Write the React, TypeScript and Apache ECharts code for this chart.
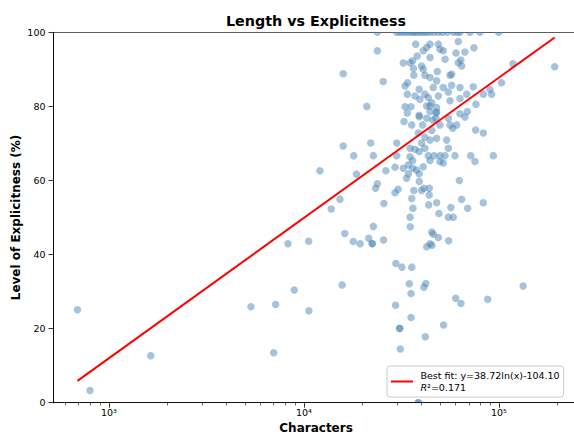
import React, { useEffect, useRef } from 'react';
import * as echarts from 'echarts';

// Each point: number of characters (x) and level of explicitness in % (y)
const characters: number[] = [
  690, 800, 1640, 5350, 7160, 7000, 8280, 8920, 10570, 10600, 12080, 13800, 15300, 15900, 15900,
  16200, 15700, 17900, 18000, 18600, 19400, 21000, 21500, 22000, 22500, 22300, 22700, 22700, 23300,
  23800, 23800, 25500, 25600, 25700, 26300,
  // top row (100 %)
  23800, 29900, 31100, 32300, 33600, 34800, 36100, 37100, 38400, 39800, 41200, 42600, 44300, 46400,
  48900, 51200, 54200, 58300, 61200, 63100, 71000, 79900, 99600,
  // dense cluster, upper part
  37400, 44300, 48900, 61900, 40900, 42600, 49800, 51800, 60200, 66900, 74400, 44300, 52900, 63800,
  61900, 36100, 38100, 32300, 35000, 40100, 36400, 40900, 48300, 64400, 56100, 36600, 41700, 44300,
  57200, 118000, 103000, 73800, 83100, 91700, 89900, 34000, 33000, 39000, 46000, 47900, 51800, 57200,
  63100, 68300, 33900, 37100, 41700, 43400, 48900, 55000, 39300, 44300, 33000, 35400, 42600, 47900,
  56100, 63100, 76200, 33900, 39000, 47900, 45200,
  // middle part
  39000, 42600, 44300, 47500, 32600, 35700, 40600, 45700, 47500, 49800, 55000, 56100, 57900, 60700,
  63100, 68800, 66900, 75900, 83100, 38600, 41700, 45200, 40100, 44300, 47900, 53900, 55000, 35000,
  37100, 39000, 41700, 29900, 29900, 35000, 43400, 46400, 49800, 52900, 59500, 71600, 93500, 44300,
  49800, 51800, 75300, 36100, 29300, 32300, 34300, 36100, 37800, 40900, 34300, 33600, 39000, 29300,
  30400, 39000, 36600, 40100, 41200, 43900, 43900, 62600, 35700, 64400,
  // lower part
  29600, 31800, 35700, 35000, 35100, 36200, 47900, 49200, 43600, 55000, 58300, 56700, 69100, 83100,
  45200, 46000, 48900, 55200, 44300, 42600, 45300,
  34700, 42200, 41200, 35400, 29500, 60000, 63800, 87500, 35400, 30900, 31000, 52000, 41900, 31200,
  38400, 38800, 133000, 193000,
];

const explicitness: number[] = [
  25.1, 3.3, 12.7, 25.9, 26.5, 13.5, 42.9, 30.4, 43.6, 24.8, 62.6, 52.3, 54.9, 88.8, 69.3,
  45.7, 31.8, 43.5, 66.7, 61.7, 42.9, 80.0, 44.4, 70.1, 42.9, 43.0, 47.6, 66.7, 57.9,
  59.1, 95.0, 86.7, 43.9, 53.8, 62.6,
  100, 100, 100, 100, 100, 100, 100, 100, 100, 100, 100, 100, 100, 100,
  100, 100, 100, 100, 100, 100, 100, 100, 100,
  96.8, 96.8, 96.8, 97.5, 95.0, 95.9, 95.4, 95.0, 94.4, 94.7, 95.8, 93.2, 92.7, 92.5,
  91.8, 92.3, 93.6, 91.7, 91.8, 90.9, 90.2, 90.0, 89.4, 90.9, 88.4, 88.4, 88.4, 87.8,
  88.7, 91.5, 86.4, 85.3, 83.3, 83.3, 84.6, 86.4, 85.5, 84.6, 85.1, 86.9, 85.1, 85.7,
  85.1, 83.3, 83.3, 82.8, 83.3, 82.4, 82.8, 83.9, 81.9, 80.1, 79.9, 79.9, 80.1, 79.7,
  81.5, 82.1, 80.6, 78.2, 77.6, 78.5, 81.0,
  77.2, 76.8, 78.6, 78.2, 75.9, 75.0, 75.0, 76.3, 76.8, 75.0, 76.8, 75.0, 74.1, 75.0,
  78.0, 78.6, 77.1, 73.6, 72.8, 72.8, 71.7, 73.5, 70.1, 70.9, 71.4, 70.9, 68.7, 68.7,
  68.4, 67.8, 68.7, 70.1, 66.7, 66.4, 66.7, 66.7, 66.7, 66.7, 66.7, 66.7, 66.7, 65.4,
  65.1, 64.7, 65.1, 65.4, 63.6, 63.3, 64.2, 63.3, 62.8, 63.7, 61.8, 60.6, 61.8, 56.7,
  57.6, 59.7, 57.3, 57.3, 57.9, 57.9, 56.1, 60.0, 55.1, 54.9,
  37.6, 36.6, 36.6, 50.1, 47.5, 52.5, 54.0, 51.1, 53.4, 50.1, 50.1, 52.7, 52.5, 54.0,
  46.1, 45.5, 44.6, 43.7, 42.9, 42.1, 42.5,
  32.1, 32.2, 31.2, 29.5, 26.3, 28.2, 26.8, 27.9, 23.0, 20.1, 20.0, 21.0, 17.8, 14.5,
  0, 0, 31.5, 90.7,
];

// Best-fit line end points
const fitCharacters: number[] = [690, 193000];
const fitExplicitness: number[] = [5.9, 98.6];
const fitName = 'Best fit: y=38.72ln(x)-104.10';
const rSquared = '0.171';

const xMajorTicks: number[] = [1000, 10000, 100000];
const xMinorTicks: number[] = [
  600, 700, 800, 900,
  2000, 3000, 4000, 5000, 6000, 7000, 8000, 9000,
  20000, 30000, 40000, 50000, 60000, 70000, 80000, 90000,
  200000,
];

const FONT = 'DejaVu Sans';
const SUP: Record<number, string> = { 2: '²', 3: '³', 4: '⁴', 5: '⁵', 6: '⁶' };

const W = 632;
const H = 434;
const GRID = { left: 53.5, right: 53.4, top: 32.3, bottom: 31.3 };

export default function App() {
  const ref = useRef<HTMLDivElement>(null);

  useEffect(() => {
    if (!ref.current) return;
    const chart = echarts.init(ref.current, undefined, { renderer: 'svg' });
    const axisLineStyle = { color: '#000', width: 0.8 };
    const plotW = W - GRID.left - GRID.right;
    chart.setOption({
      animation: false,
      title: {
        text: 'Length vs Explicitness',
        left: 'center',
        top: 13.5,
        padding: 0,
        z: 20,
        textStyle: { fontFamily: FONT, fontWeight: 'bold', fontSize: 14.3, color: '#000' },
      },
      grid: {
        left: GRID.left,
        right: GRID.right,
        top: GRID.top,
        bottom: GRID.bottom,
        outerBoundsMode: 'none',
        containLabel: false,
        show: true,
        borderColor: '#000',
        borderWidth: 0.8,
        backgroundColor: 'transparent',
      },
      // masks so markers are clipped at the plot frame, as in the original
      graphic: [
        {
          type: 'rect',
          z: 5,
          silent: true,
          shape: { x: GRID.left - 4, y: 0, width: plotW + 8, height: GRID.top - 0.4 },
          style: { fill: '#fff' },
        },
        {
          type: 'rect',
          z: 5,
          silent: true,
          shape: { x: GRID.left + 0.4, y: H - GRID.bottom + 0.4, width: plotW, height: GRID.bottom },
          style: { fill: '#fff' },
        },
      ],
      legend: {
        data: [fitName],
        left: 387,
        top: 366,
        orient: 'vertical',
        padding: [3.5, 4, 3.5, 4],
        itemWidth: 22,
        itemHeight: 2,
        icon: 'rect',
        z: 20,
        backgroundColor: 'rgba(255,255,255,0.8)',
        borderColor: '#cccccc',
        borderWidth: 1,
        borderRadius: 3,
        formatter: (n: string) => n + '\n{i|R}²=' + rSquared,
        textStyle: {
          fontFamily: FONT,
          fontSize: 9.5,
          lineHeight: 12,
          color: '#000',
          padding: [0, 0, 0, 2.5],
          rich: {
            i: { fontStyle: 'italic', fontFamily: FONT, fontSize: 9.5, lineHeight: 12, color: '#000' },
          },
        },
      },
      xAxis: [
        {
          type: 'log',
          logBase: 10,
          min: 520,
          max: 256000,
          gridIndex: 0,
          position: 'bottom',
          z: 10,
          name: 'Characters',
          nameLocation: 'middle',
          nameGap: 19,
          nameMoveOverlap: false,
          nameTextStyle: { fontFamily: FONT, fontWeight: 'bold', fontSize: 12, lineHeight: 12, color: '#000' },
          axisLine: { show: true, lineStyle: axisLineStyle },
          axisTick: { show: true, customValues: xMajorTicks, length: 5, lineStyle: axisLineStyle },
          axisLabel: {
            customValues: xMajorTicks,
            margin: 5,
            fontFamily: FONT,
            fontSize: 9.5,
            color: '#000',
            formatter: (v: number) => '10' + (SUP[Math.round(Math.log10(v))] || ''),
          },
          splitLine: { show: false },
          minorTick: { show: false },
        },
        {
          type: 'log',
          logBase: 10,
          min: 520,
          max: 256000,
          gridIndex: 0,
          position: 'bottom',
          z: 10,
          axisLine: { show: false },
          axisTick: { show: true, customValues: xMinorTicks, length: 2.8, lineStyle: { color: '#000', width: 0.6 } },
          axisLabel: { show: false },
          splitLine: { show: false },
        },
      ],
      yAxis: {
        type: 'value',
        min: 0,
        max: 100,
        interval: 20,
        z: 10,
        name: 'Level of Explicitness (%)',
        nameLocation: 'middle',
        nameGap: 32,
        nameMoveOverlap: false,
        nameTextStyle: { fontFamily: FONT, fontWeight: 'bold', fontSize: 12, color: '#000' },
        axisLine: { show: true, lineStyle: axisLineStyle },
        axisTick: { show: true, length: 5, lineStyle: axisLineStyle },
        axisLabel: { margin: 8, fontFamily: FONT, fontSize: 9.5, color: '#000' },
        splitLine: { show: false },
      },
      series: [
        {
          type: 'scatter',
          name: 'Articles',
          xAxisIndex: 0,
          data: characters.map((c, i) => [c, explicitness[i]]),
          symbolSize: 7.5,
          itemStyle: { color: 'rgba(70,130,180,0.6)' },
          clip: true,
          z: 2,
        },
        {
          type: 'line',
          name: fitName,
          xAxisIndex: 0,
          data: fitCharacters.map((c, i) => [c, fitExplicitness[i]]),
          symbol: 'none',
          lineStyle: { color: '#ff0000', width: 2 },
          itemStyle: { color: '#ff0000' },
          z: 3,
        },
      ],
    });
    return () => chart.dispose();
  }, []);

  return (
    <div style={{ position: 'fixed', left: 0, top: 0, width: 574, height: H, overflow: 'hidden', background: '#fff' }}>
      <div ref={ref} style={{ width: W, height: H }} />
    </div>
  );
}
